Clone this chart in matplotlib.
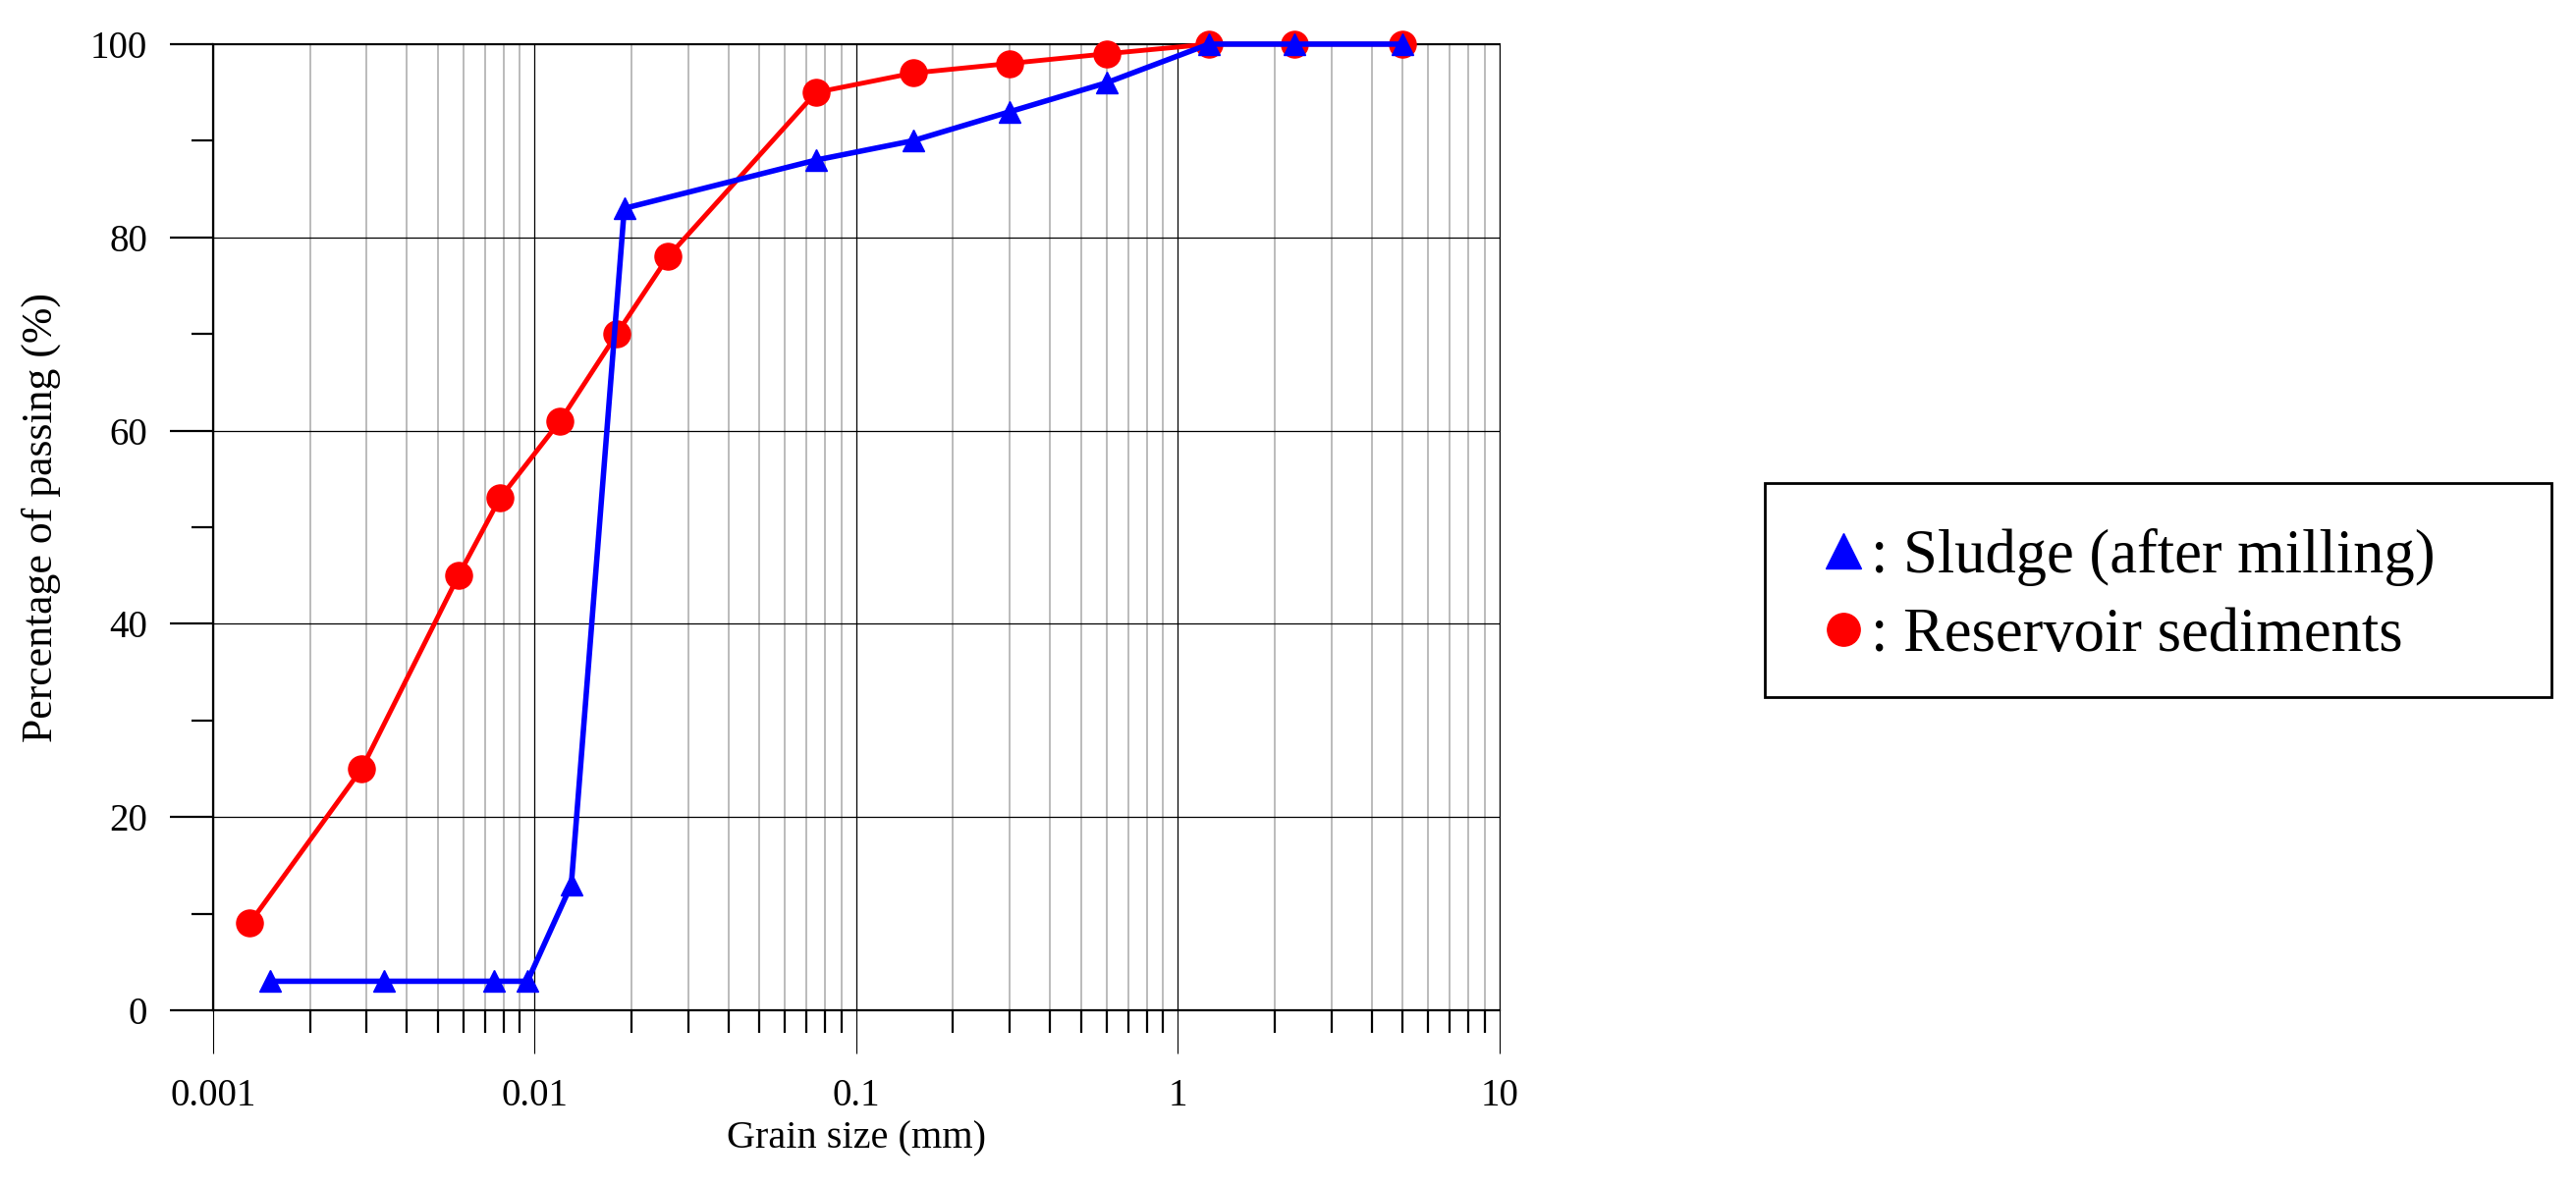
import numpy as np
import matplotlib
matplotlib.use('Agg')
import matplotlib.pyplot as plt
from matplotlib.lines import Line2D
from matplotlib.patches import Rectangle
from matplotlib.ticker import LogLocator, NullFormatter

plt.rcParams['font.family'] = ['Liberation Serif', 'DejaVu Serif']

# grain size (mm) and percentage passing
sludge_size = [0.0015, 0.0034, 0.0075, 0.0095, 0.013, 0.019, 0.075, 0.15, 0.3, 0.6, 1.25, 2.3, 5.0]
sludge_pass = [3, 3, 3, 3, 13, 83, 88, 90, 93, 96, 100, 100, 100]
sediment_size = [0.0013, 0.0029, 0.0058, 0.0078, 0.012, 0.018, 0.026, 0.075, 0.15, 0.3, 0.6, 1.25, 2.3, 5.0]
sediment_pass = [9, 25, 45, 53, 61, 70, 78, 95, 97, 98, 99, 100, 100, 100]
series_names = [': Sludge (after milling)', ': Reservoir sediments']

x_ticks = [0.001, 0.01, 0.1, 1, 10]
x_ticklabels = ['0.001', '0.01', '0.1', '1', '10']
y_ticks = [0, 20, 40, 60, 80, 100]
y_minor = [10, 30, 50, 70, 90]

fig = plt.figure(figsize=(26.23, 12.08), dpi=100)
ax = fig.add_axes([0.0827, 0.1482, 0.4994, 0.8146])

ax.plot(sediment_size, sediment_pass, color='red', lw=3.5, marker='o', ms=19.5,
        zorder=3, clip_on=False)
ax.plot(sludge_size, sludge_pass, color='blue', lw=4, marker='^', ms=16,
        zorder=4, clip_on=False)

ax.set_xscale('log')
ax.set_xlim(0.001, 10)
ax.set_ylim(0, 100)
ax.set_xticks(x_ticks)
ax.set_xticklabels(x_ticklabels)
ax.xaxis.set_minor_locator(LogLocator(base=10, subs=np.arange(2, 10)))
ax.xaxis.set_minor_formatter(NullFormatter())
ax.set_yticks(y_ticks)
ax.set_yticks(y_minor, minor=True)

ax.set_axisbelow(True)
ax.grid(which='major', color='black', lw=0.9)
ax.grid(which='minor', axis='x', color='#bbbbbb', lw=1.4)

ax.tick_params(axis='y', which='major', direction='out', length=32, width=1.6,
               labelsize=28, pad=16)
ax.tick_params(axis='y', which='minor', direction='out', length=16, width=1.6)
ax.tick_params(axis='x', which='major', direction='out', length=32, width=0.8,
               labelsize=28, pad=18)
ax.tick_params(axis='x', which='minor', direction='out', length=16.5, width=1.6)

ax.spines['left'].set_linewidth(1.6)
ax.spines['bottom'].set_linewidth(1.6)
ax.spines['top'].set_linewidth(1.4)
ax.spines['right'].set_linewidth(0.8)

ax.set_xlabel('Grain size (mm)', fontsize=29, labelpad=4)
ax.set_ylabel('Percentage of passing (%)', fontsize=31.5)
ax.yaxis.set_label_coords(-0.118, 0.51)

# legend box drawn separately so its size matches the original
fig.add_artist(Rectangle((0.6851, 0.4123), 0.3054, 0.1805, transform=fig.transFigure,
                         fill=False, edgecolor='black', lw=2))
handles = [Line2D([], [], ls='none', marker='^', color='blue', ms=26),
           Line2D([], [], ls='none', marker='o', color='red', ms=24)]
fig.legend(handles, series_names, loc='center left', bbox_to_anchor=(0.708, 0.497),
           frameon=False, fontsize=45, handlelength=0.65, handletextpad=0.12,
           borderpad=0, borderaxespad=0, labelspacing=0.35)

fig.savefig('out.png', dpi=100)
